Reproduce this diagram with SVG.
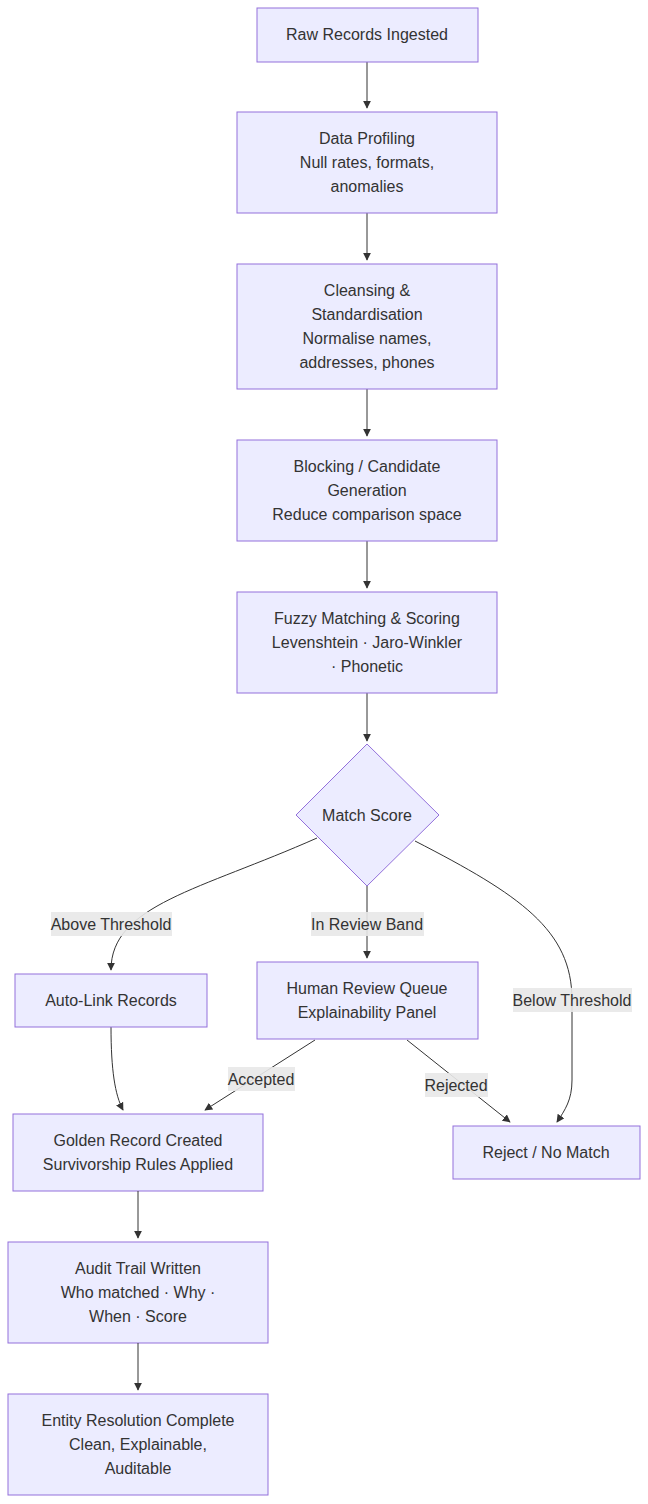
<svg xmlns="http://www.w3.org/2000/svg" width="648" height="1504" viewBox="0 0 648 1504">
<style>
.n{fill:#ECECFF;stroke:#9370DB;stroke-width:1}
text{font-family:"Liberation Sans",Arial,sans-serif;font-size:16px;fill:#333;text-anchor:middle}
.e{fill:none;stroke:#333;stroke-width:1}
.lb{fill:#e8e8e8;opacity:0.9}
</style>
<defs><marker id="a" viewBox="0 0 10 10" refX="9" refY="5" markerWidth="8" markerHeight="8" orient="auto"><path d="M0,0L10,5L0,10z" fill="#333"/></marker></defs>
<rect width="648" height="1504" fill="#fff"/>
<g id="edges">
<path class="e" marker-end="url(#a)" d="M367,62V108"/>
<path class="e" marker-end="url(#a)" d="M367,213V260"/>
<path class="e" marker-end="url(#a)" d="M367,389V436"/>
<path class="e" marker-end="url(#a)" d="M367,541V588"/>
<path class="e" marker-end="url(#a)" d="M367,693V741"/>
<path class="e" marker-end="url(#a)" d="M317,838C200,890 111,905 111,970"/>
<path class="e" marker-end="url(#a)" d="M367,886V958"/>
<path class="e" marker-end="url(#a)" d="M415,841C520,895 572,930 572,1000L572,1080C572,1100 565,1110 557,1122"/>
<path class="e" marker-end="url(#a)" d="M111,1027C111,1070 115,1095 123,1110"/>
<path class="e" marker-end="url(#a)" d="M315,1040L205,1110"/>
<path class="e" marker-end="url(#a)" d="M407,1040L510,1122"/>
<rect class="lb" x="51" y="912" width="121" height="24"/><text x="111" y="930">Above Threshold</text>
<rect class="lb" x="311" y="912" width="113" height="24"/><text x="367" y="930">In Review Band</text>
<rect class="lb" x="513" y="988" width="119" height="24"/><text x="572" y="1006">Below Threshold</text>
<rect class="lb" x="228" y="1067" width="67" height="24"/><text x="261" y="1085">Accepted</text>
<rect class="lb" x="425" y="1073" width="63" height="24"/><text x="456" y="1091">Rejected</text>
</g>
<g id="n1"><rect class="n" x="257" y="8" width="221" height="54"/><text x="367" y="40">Raw Records Ingested</text></g>
<g id="n2"><rect class="n" x="237" y="112" width="260" height="101"/><text x="367" y="144">Data Profiling</text><text x="367" y="168">Null rates, formats,</text><text x="367" y="192">anomalies</text></g>
<g id="n3"><rect class="n" x="237" y="264" width="260" height="125"/><text x="367" y="296">Cleansing &amp;</text><text x="367" y="320">Standardisation</text><text x="367" y="344">Normalise names,</text><text x="367" y="368">addresses, phones</text></g>
<g id="n4"><rect class="n" x="237" y="440" width="260" height="101"/><text x="367" y="472">Blocking / Candidate</text><text x="367" y="496">Generation</text><text x="367" y="520">Reduce comparison space</text></g>
<g id="n5"><rect class="n" x="237" y="592" width="260" height="101"/><text x="367" y="624">Fuzzy Matching &amp; Scoring</text><text x="367" y="648">Levenshtein · Jaro-Winkler</text><text x="367" y="672">· Phonetic</text></g>
<g id="n6"><path class="n" d="M367,744L439,815L367,886L296,815Z"/><text x="367" y="821">Match Score</text></g>
<g id="n7"><rect class="n" x="15" y="974" width="192" height="53"/><text x="111" y="1006">Auto-Link Records</text></g>
<g id="n8"><rect class="n" x="257" y="962" width="221" height="77"/><text x="367" y="994">Human Review Queue</text><text x="367" y="1018">Explainability Panel</text></g>
<g id="n9"><rect class="n" x="453" y="1126" width="187" height="53"/><text x="546" y="1158">Reject / No Match</text></g>
<g id="n10"><rect class="n" x="13" y="1114" width="250" height="77"/><text x="138" y="1146">Golden Record Created</text><text x="138" y="1170">Survivorship Rules Applied</text></g>
<g id="n11"><rect class="n" x="8" y="1242" width="260" height="101"/><text x="138" y="1274">Audit Trail Written</text><text x="138" y="1298">Who matched · Why ·</text><text x="138" y="1322">When · Score</text></g>
<path class="e" marker-end="url(#a)" d="M138,1191V1238"/>
<path class="e" marker-end="url(#a)" d="M138,1343V1390"/>
<g id="n12"><rect class="n" x="8" y="1394" width="260" height="101"/><text x="138" y="1426">Entity Resolution Complete</text><text x="138" y="1450">Clean, Explainable,</text><text x="138" y="1474">Auditable</text></g>
</svg>
